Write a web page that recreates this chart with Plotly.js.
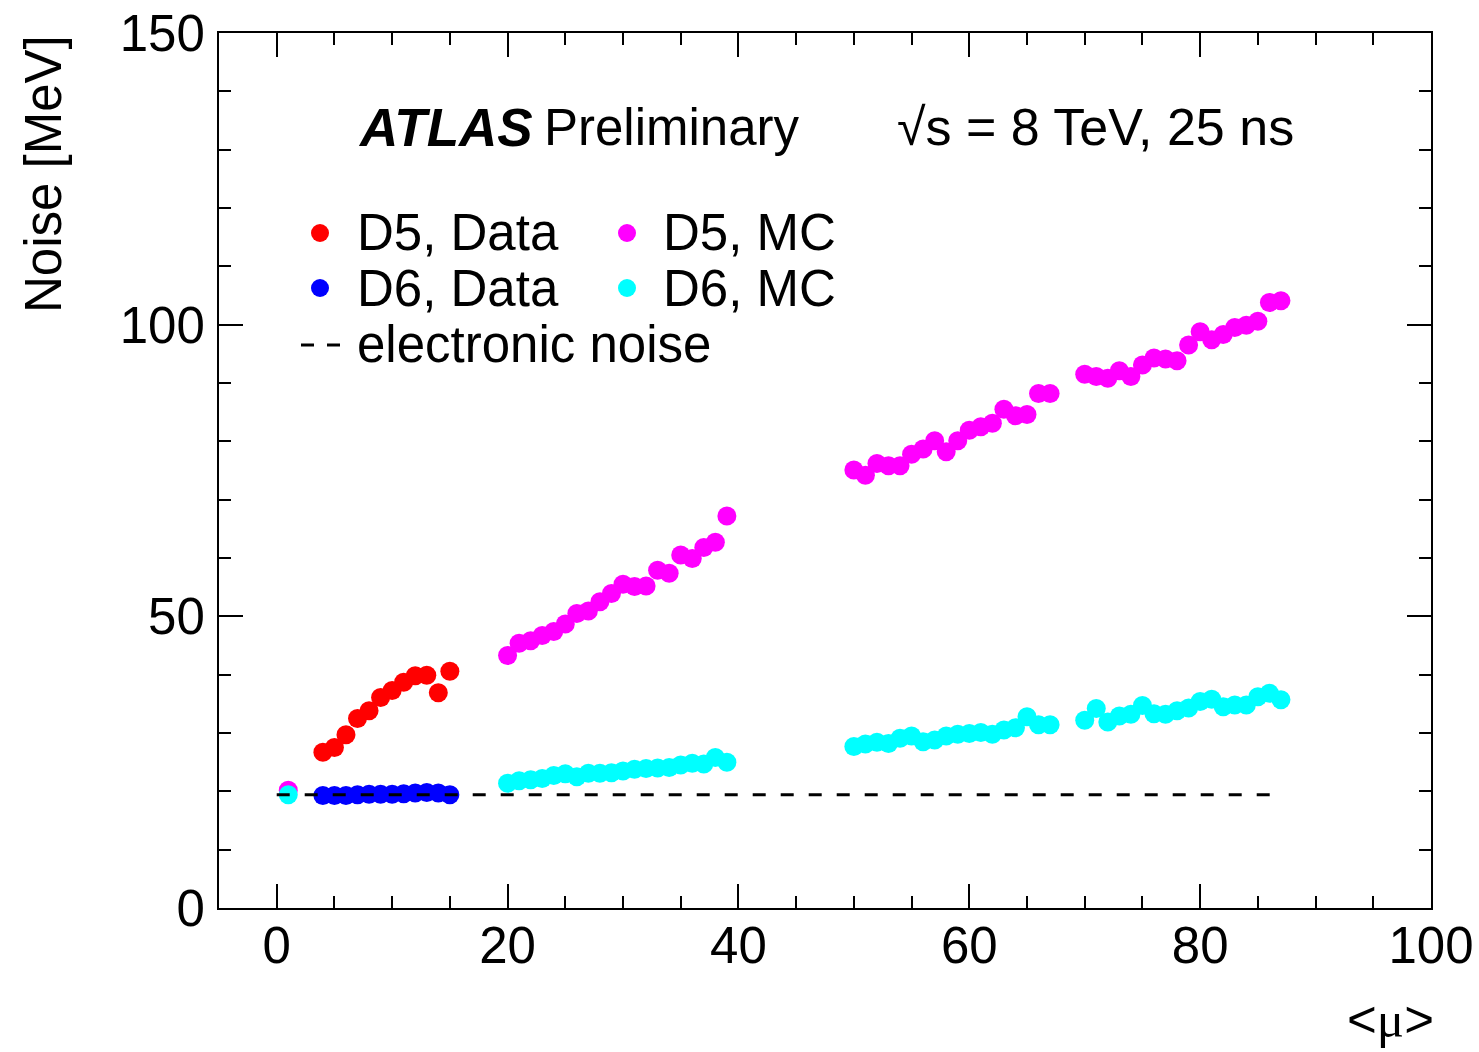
<!DOCTYPE html>
<html>
<head>
<meta charset="utf-8">
<script src="https://cdn.plot.ly/plotly-3.0.1.min.js"></script>
<style>
  html, body { margin: 0; padding: 0; background: #fff; }
  #chart { width: 1479px; height: 1052px; }
</style>
</head>
<body>
<div id="chart"></div>
<script>
// ---- Data ----
var muData = [4, 5, 6, 7, 8, 9, 10, 11, 12, 13, 14, 15];
var d5Data = [26.7, 27.5, 29.7, 32.5, 33.8, 36.1, 37.3, 38.7, 39.8, 39.9, 36.9, 40.6];
var d6Data = [19.3, 19.3, 19.3, 19.4, 19.5, 19.5, 19.5, 19.6, 19.7, 19.8, 19.7, 19.4];

var muMC = [1,
  20, 21, 22, 23, 24, 25, 26, 27, 28, 29, 30, 31, 32, 33, 34, 35, 36, 37, 38, 39,
  50, 51, 52, 53, 54, 55, 56, 57, 58, 59, 60, 61, 62, 63, 64, 65, 66, 67,
  70, 71, 72, 73, 74, 75, 76, 77, 78, 79, 80, 81, 82, 83, 84, 85, 86, 87];
var d5MC = [20.2,
  43.3, 45.4, 45.8, 46.7, 47.4, 48.7, 50.5, 50.9, 52.5, 53.9, 55.5, 55.1, 55.2, 57.9, 57.4, 60.5, 59.9, 61.8, 62.7, 67.2,
  75.1, 74.2, 76.2, 75.8, 75.8, 77.8, 78.7, 80.1, 78.2, 80.1, 81.9, 82.5, 83.1, 85.5, 84.4, 84.6, 88.2, 88.2,
  91.5, 91.1, 90.8, 92.1, 91.1, 93.1, 94.3, 94.1, 93.8, 96.5, 98.8, 97.4, 98.3, 99.5, 99.9, 100.6, 103.8, 104.1];
var d6MC = [19.4,
  21.4, 21.8, 22.0, 22.2, 22.7, 23.0, 22.5, 23.1, 23.1, 23.2, 23.5, 23.8, 23.9, 24.0, 24.1, 24.5, 24.8, 24.7, 25.8, 25.0,
  27.7, 28.1, 28.4, 28.2, 29.1, 29.5, 28.5, 28.8, 29.5, 29.8, 29.9, 30.1, 29.8, 30.5, 30.9, 32.8, 31.4, 31.4,
  32.2, 34.2, 31.9, 32.9, 33.2, 34.7, 33.3, 33.2, 33.8, 34.3, 35.4, 35.8, 34.5, 34.8, 34.8, 36.2, 36.8, 35.7];

var noiseMu = [0, 87];
var noiseLevel = [19.4, 19.4];

var seriesNames = ["D5, Data", "D6, Data", "D5, MC", "D6, MC", "electronic noise"];
var seriesColors = ["#ff0000", "#0000ff", "#ff00ff", "#00ffff", "#000000"];

var xTickVals = [0, 20, 40, 60, 80, 100];
var yTickVals = [0, 50, 100, 150];

// ---- Chart ----
var FONT = "Liberation Sans, Arial, Helvetica, sans-serif";
var MS = 19;

function pts(name, x, y, color) {
  return { type: "scatter", mode: "markers", name: name, x: x, y: y,
    marker: { color: color, size: MS, line: { width: 0 } }, showlegend: false,
    cliponaxis: false };
}

var traces = [
  pts(seriesNames[0], muData, d5Data, seriesColors[0]),
  pts(seriesNames[2], muMC, d5MC, seriesColors[2]),
  pts(seriesNames[3], muMC, d6MC, seriesColors[3]),
  pts(seriesNames[1], muData, d6Data, seriesColors[1]),
  { type: "scatter", mode: "lines", name: seriesNames[4], x: noiseMu, y: noiseLevel,
    line: { color: seriesColors[4], width: 3, dash: "13px,15px" }, showlegend: false }
];

// pixel -> paper helpers for text/legend placement
var L = 219, R = 1431, T = 33, B = 908;
function px(x) { return (x - L) / (R - L); }
function py(y) { return (B - y) / (B - T); }

var annotations = [];
var shapes = [];
function txt(text, x, y, opts) {
  var a = { xref: "paper", yref: "paper", x: px(x), y: py(y), text: text, showarrow: false,
    xanchor: "left", yanchor: "middle", font: { family: FONT, size: 51, color: "#000" } };
  for (var k in opts) a[k] = opts[k];
  annotations.push(a);
}

// header
txt("<b><i>ATLAS</i></b>", 356, 127, { font: { family: FONT, size: 53, color: "#000" } });
txt("Preliminary", 542, 127);
txt("√s = 8 TeV, 25 ns", 895, 127, { font: { family: FONT, size: 52, color: "#000" } });

// legend (manual, two columns)
var legRows = [233, 288];
var legCols = [{ dot: 320, text: 355 }, { dot: 627, text: 661 }];
var legOrder = [[0, 2], [1, 3]];
for (var r = 0; r < 2; r++) {
  for (var c = 0; c < 2; c++) {
    var idx = legOrder[r][c];
    shapes.push({ type: "circle", xref: "paper", yref: "paper", xsizemode: "pixel", ysizemode: "pixel",
      xanchor: px(legCols[c].dot), yanchor: py(legRows[r]), x0: -9, x1: 9, y0: -9, y1: 9,
      fillcolor: seriesColors[idx], line: { width: 0 } });
    txt(seriesNames[idx], legCols[c].text, legRows[r]);
  }
}
[[301, 314], [327, 340]].forEach(function (d) {
  shapes.push({ type: "line", xref: "paper", yref: "paper", x0: px(d[0]), x1: px(d[1]),
    y0: py(345), y1: py(345), line: { color: "#000", width: 3 } });
});
txt(seriesNames[4], 355, 344);

// axis titles
annotations.push({ xref: "paper", yref: "paper", x: px(43), y: 1, xanchor: "center", yanchor: "top",
  text: "Noise [MeV]", textangle: -90, showarrow: false, font: { family: FONT, size: 51, color: "#000" } });
annotations.push({ xref: "paper", yref: "paper", x: 1, y: py(1050), xanchor: "right", yanchor: "bottom",
  xshift: 5,
  text: "&lt;<span style=\"font-family:'Liberation Serif', serif\">μ</span>&gt;", showarrow: false,
  font: { family: FONT, size: 51, color: "#000" } });

var axisCommon = {
  showline: true, linecolor: "#000", linewidth: 2, mirror: "allticks",
  ticks: "inside", ticklen: 24, tickwidth: 2, tickcolor: "#000",
  showgrid: false, zeroline: false,
  tickfont: { family: FONT, size: 51, color: "#000" }
};

var layout = {
  width: 1479, height: 1052,
  margin: { l: L, r: 1479 - R, t: T, b: 1052 - B },
  paper_bgcolor: "#fff", plot_bgcolor: "#fff",
  showlegend: false,
  xaxis: Object.assign({}, axisCommon, {
    range: [-5, 100], tickmode: "array", tickvals: xTickVals, ticktext: xTickVals.map(String),
    minor: { dtick: 5, tick0: 0, ticks: "inside", ticklen: 12, tickwidth: 2, tickcolor: "#000", showgrid: false },
    ticklabelstandoff: -8
  }),
  yaxis: Object.assign({}, axisCommon, {
    range: [0, 150], tickmode: "array", tickvals: yTickVals, ticktext: yTickVals.map(String),
    minor: { dtick: 10, tick0: 0, ticks: "inside", ticklen: 12, tickwidth: 2, tickcolor: "#000", showgrid: false },
    ticklabelstandoff: 2
  }),
  annotations: annotations,
  shapes: shapes
};

Plotly.newPlot("chart", traces, layout, { displayModeBar: false, staticPlot: true });
</script>
</body>
</html>
